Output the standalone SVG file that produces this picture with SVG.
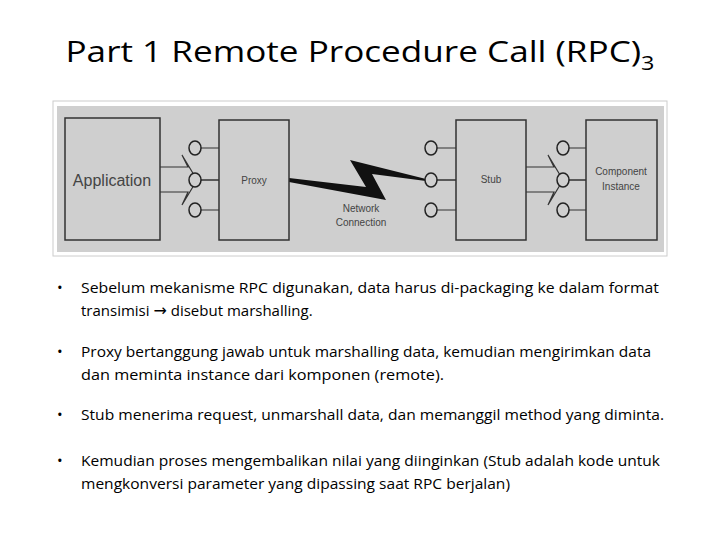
<svg xmlns="http://www.w3.org/2000/svg" width="720" height="540" viewBox="0 0 720 540">
<style>
.t{font-family:"Open Sans","Liberation Sans",sans-serif;font-size:15px;fill:#000}
.box{fill:#cfcfcf;stroke:#333;stroke-width:1.5}
.c{fill:#cfcfcf;stroke:#222;stroke-width:1.5}
.ln{stroke:#333;stroke-width:1.2;fill:none}
.lb{font-family:"Liberation Sans",Arial,sans-serif;fill:#444}
</style>
<rect width="720" height="540" fill="#fff"/>
<text x="360" y="62" text-anchor="middle" font-family="Open Sans,Liberation Sans,sans-serif" font-size="30" fill="#000" textLength="589" lengthAdjust="spacingAndGlyphs">Part 1 Remote Procedure Call (RPC)<tspan font-size="20" dy="8">3</tspan></text>
<rect x="53" y="101" width="614" height="155" fill="#fff" stroke="#ccc"/>
<rect x="57" y="106" width="607" height="146" fill="#cfcfcf"/>
<g id="connectors">
<polyline class="ln" points="160,167 188,167 182,155 197,180 182,205 188,192 160,192"/>
<polyline class="ln" points="526,167 554,167 548,155 563,180 548,205 554,192 526,192"/>
<path class="ln" d="M201,148H219M201,180H219M201,210H219M437,148H456M437,180H456M437,210H456M569,148H586M569,180H586M569,210H586"/>
<path class="ln" stroke-width="2" d="M201,180H219M437,180H456M569,180H586"/>
<polygon fill="#111" points="289,178 366,187 350,160 426,179 426,181 372,174 386,200 289,182"/>
</g>
<g id="application"><rect class="box" x="65" y="118" width="95" height="122" stroke-width="2"/><text class="lb" x="112" y="186" text-anchor="middle" font-size="16">Application</text></g>
<g id="proxy"><rect class="box" x="219" y="120" width="70" height="120"/><text class="lb" x="254" y="184" text-anchor="middle" font-size="10">Proxy</text>
<ellipse class="c" cx="195" cy="148" rx="6" ry="7"/><ellipse class="c" cx="195" cy="180" rx="6" ry="7"/><ellipse class="c" cx="195" cy="210" rx="6" ry="7"/></g>
<g id="network"><text class="lb" x="361" y="212" text-anchor="middle" font-size="10">Network</text><text class="lb" x="361" y="226" text-anchor="middle" font-size="10">Connection</text></g>
<g id="stub"><rect class="box" x="456" y="120" width="70" height="120"/><text class="lb" x="491" y="183" text-anchor="middle" font-size="10">Stub</text>
<ellipse class="c" cx="431" cy="148" rx="6" ry="7"/><ellipse class="c" cx="431" cy="180" rx="6" ry="7"/><ellipse class="c" cx="431" cy="210" rx="6" ry="7"/></g>
<g id="component"><rect class="box" x="586" y="120" width="71" height="120"/><text class="lb" x="621" y="175" text-anchor="middle" font-size="10">Component</text><text class="lb" x="621" y="190" text-anchor="middle" font-size="10">Instance</text>
<ellipse class="c" cx="563" cy="148" rx="6" ry="7"/><ellipse class="c" cx="563" cy="180" rx="6" ry="7"/><ellipse class="c" cx="563" cy="210" rx="6" ry="7"/></g>
<g id="text">
<text class="t" x="57" y="293">•</text><text class="t" x="81" y="293" textLength="578" lengthAdjust="spacingAndGlyphs">Sebelum mekanisme RPC digunakan, data harus di-packaging ke dalam format</text>
<text class="t" x="81" y="316">transimisi <tspan font-family="DejaVu Sans" font-size="16">→</tspan> disebut marshalling.</text>
<text class="t" x="57" y="357">•</text><text class="t" x="81" y="357" textLength="570" lengthAdjust="spacingAndGlyphs">Proxy bertanggung jawab untuk marshalling data, kemudian mengirimkan data</text>
<text class="t" x="81" y="380" textLength="363" lengthAdjust="spacingAndGlyphs">dan meminta instance dari komponen (remote).</text>
<text class="t" x="57" y="420">•</text><text class="t" x="81" y="420" textLength="583" lengthAdjust="spacingAndGlyphs">Stub menerima request, unmarshall data, dan memanggil method yang diminta.</text>
<text class="t" x="57" y="466">•</text><text class="t" x="81" y="466" textLength="579" lengthAdjust="spacingAndGlyphs">Kemudian proses mengembalikan nilai yang diinginkan (Stub adalah kode untuk</text>
<text class="t" x="81" y="489" textLength="429" lengthAdjust="spacingAndGlyphs">mengkonversi parameter yang dipassing saat RPC berjalan)</text>
</g>
</svg>
